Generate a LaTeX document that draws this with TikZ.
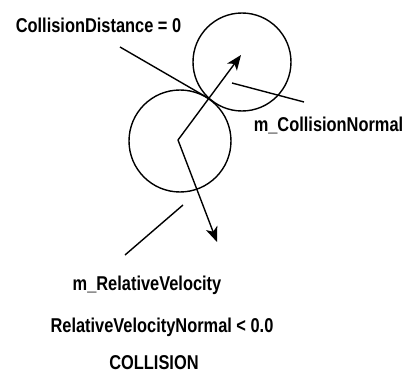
\documentclass[tikz,border=0pt]{standalone}
\usepackage{fontspec}
\setmainfont[FakeStretch=0.82]{Liberation Sans}
\usetikzlibrary{arrows.meta}
\begin{document}
\begin{tikzpicture}[x=1pt,y=-1pt,
  line width=1.4pt,
  ball/.style={draw,circle,inner sep=0pt,line width=1.4pt},
  lbl/.style={inner sep=0pt,anchor=base,font=\bfseries\fontsize{20}{22}\selectfont},
  vec/.style={-{Stealth[length=15pt,width=12pt,inset=4pt]}}]
\useasboundingbox (0,0) rectangle (408,372);
\node[ball,minimum size=98pt] (top) at (242,62) {};
\node[ball,minimum size=102pt] (bot) at (180,141) {};
\coordinate (ctr) at (178,140);
\coordinate (ntip) at (241,55);
\coordinate (vtip) at (217,242);
\coordinate (tl1) at (120,47);
\coordinate (tl2) at (208,98);
\coordinate (nl1) at (232,83);
\coordinate (nl2) at (304,102);
\coordinate (vl1) at (183,205);
\coordinate (vl2) at (125,255);
\node[lbl] (cd) at (98.5,32) {CollisionDistance = 0};
\node[lbl] (cn) at (328.5,131) {m\_CollisionNormal};
\node[lbl] (rv) at (147,290) {m\_RelativeVelocity};
\node[lbl] (rvn) at (162,332) {RelativeVelocityNormal < 0.0};
\node[lbl] (col) at (154,369) {COLLISION};
\draw (tl1) -- (tl2);
\draw (nl1) -- (nl2);
\draw (vl1) -- (vl2);
\draw[vec] (ctr) -- (ntip);
\draw[vec] (ctr) -- (vtip);
\end{tikzpicture}
\end{document}
